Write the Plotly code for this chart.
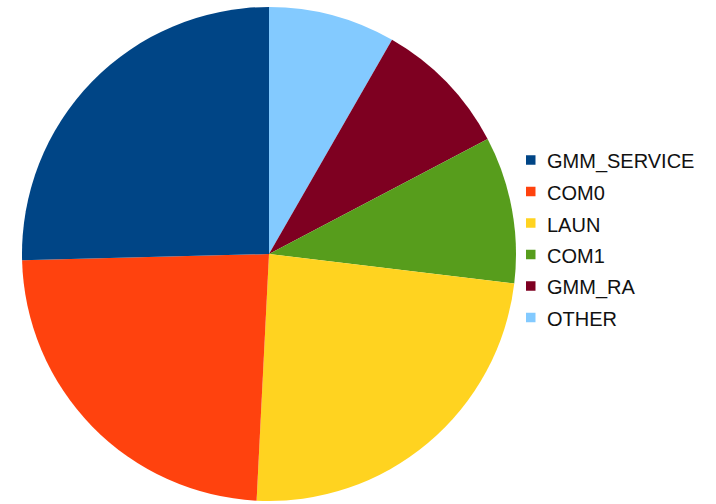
import plotly.graph_objects as go

# Share of time per component (percent)
labels = ["GMM_SERVICE", "COM0", "LAUN", "COM1", "GMM_RA", "OTHER"]
values = [25.4, 23.8, 23.9, 9.6, 9.0, 8.3]
colors = ["#004586", "#ff420e", "#ffd320", "#579d1c", "#7e0021", "#83caff"]

W, H = 716, 504

# Slices run counterclockwise from 12 o'clock in legend order; plotly's
# clockwise mode starts exactly at 12 o'clock, so feed the series reversed.
fig = go.Figure()
fig.add_trace(go.Pie(
    labels=labels[::-1],
    values=values[::-1],
    marker=dict(colors=colors[::-1], line=dict(width=0)),
    sort=False,
    direction="clockwise",
    rotation=0,
    textinfo="none",
    hoverinfo="label+percent",
    showlegend=False,
    domain=dict(x=[22 / W, 516 / W], y=[1 - 501 / H, 1 - 7 / H]),
))

# Legend drawn as swatches and labels on the right
sw_x0, sw_size = 526, 9.5
row0, row_gap = 160, 31.5
for i, (lab, col) in enumerate(zip(labels, colors)):
    cy = row0 + i * row_gap
    fig.add_shape(
        type="rect", xref="paper", yref="paper",
        x0=sw_x0 / W, x1=(sw_x0 + sw_size) / W,
        y0=1 - (cy + sw_size / 2) / H, y1=1 - (cy - sw_size / 2) / H,
        fillcolor=col, line=dict(width=0),
    )
    fig.add_annotation(
        xref="paper", yref="paper",
        x=545 / W, y=1 - (cy + 1.5) / H,
        xanchor="left", yanchor="middle",
        text=lab, showarrow=False,
        font=dict(family="Liberation Sans, Arial, sans-serif", size=20, color="#111111"),
    )

fig.update_layout(
    width=W, height=H,
    margin=dict(l=0, r=0, t=0, b=0),
    paper_bgcolor="white",
    plot_bgcolor="white",
)

fig.write_html("out.html")
